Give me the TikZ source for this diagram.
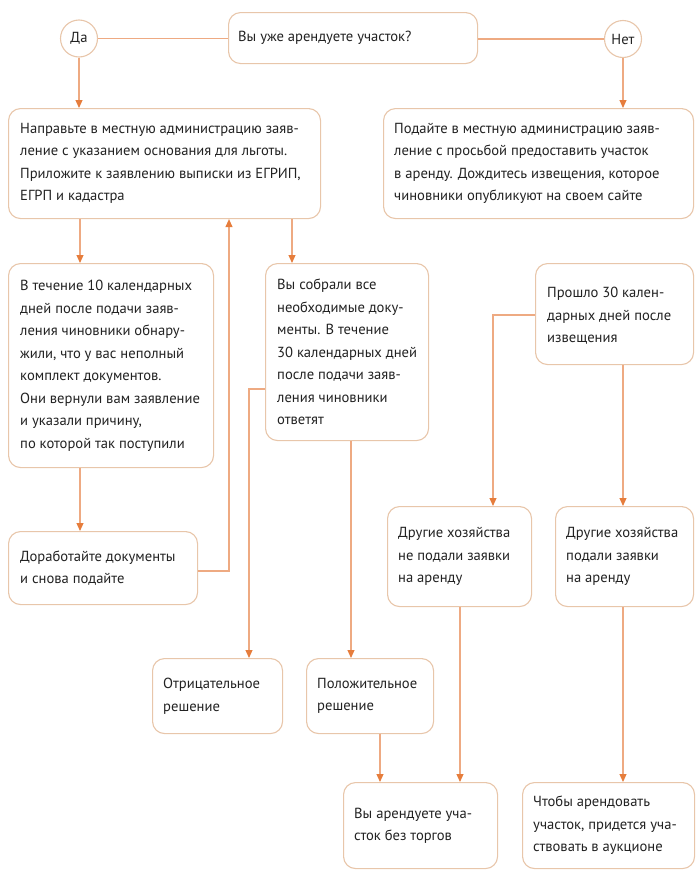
\documentclass[tikz,border=0pt]{standalone}
\usepackage{fontspec}
\setmainfont{PT Sans}
\usetikzlibrary{arrows.meta,calc}
\definecolor{linec}{RGB}{238,170,130}
\definecolor{arrowc}{RGB}{230,125,60}
\definecolor{boxc}{RGB}{232,198,170}
\definecolor{txtc}{RGB}{34,34,34}
\begin{document}
\begin{tikzpicture}[x=1pt,y=-1pt,
  every node/.style={font=\fontsize{14.6}{22.5}\selectfont, text=txtc},
  box/.style={draw=boxc, line width=1.1pt, rounded corners=12pt, fill=white,
    align=left, inner sep=0pt, anchor=north west},
  yesno/.style={draw=boxc, line width=1.1pt, circle, fill=white, inner sep=0pt, minimum size=37pt},
  conn/.style={draw=linec, line width=1.1pt},
  arr/.style={conn, -{Triangle[length=8pt,width=7pt,color=arrowc]}},
  lbl/.style={anchor=west, align=left, inner sep=0pt}]
\useasboundingbox (0,0) rectangle (700,881);
\node[box, minimum width=249pt, minimum height=51pt] (q) at (228,12) {};
\node[lbl] (tq) at ($(q.west)+(10,0)$) {Вы уже арендуете участок?};
\node[yesno] (da) at (79,38.5) {Да};
\node[yesno] (net) at (623,39) {Нет};
\node[box, minimum width=312pt, minimum height=110pt] (b1) at (8,108) {};
\node[lbl] (t1) at ($(b1.west)+(12,0)$)
  {Направьте в местную администрацию заяв-\\ление с указанием основания для льготы.\\Приложите к заявлению выписки из ЕГРИП,\\ЕГРП и кадастра};
\node[box, minimum width=310pt, minimum height=110pt] (b2) at (383,108) {};
\node[lbl] (t2) at ($(b2.west)+(11,0)$)
  {Подайте в местную администрацию заяв-\\ление с просьбой предоставить участок\\в аренду. Дождитесь извещения, которое\\чиновники опубликуют на своем сайте};
\node[box, minimum width=205pt, minimum height=204pt] (b3) at (8,263) {};
\node[lbl] (t3) at ($(b3.west)+(12,0)$)
  {В течение 10 календарных\\дней после подачи заяв-\\ления чиновники обнару-\\жили, что у вас неполный\\комплект документов.\\Они вернули вам заявление\\и указали причину,\\по которой так поступили};
\node[box, minimum width=163pt, minimum height=177pt] (b4) at (265,263) {};
\node[lbl] (t4) at ($(b4.west)+(12,0)$)
  {Вы собрали все\\необходимые доку-\\менты. В течение\\30 календарных дней\\после подачи заяв-\\ления чиновники\\ответят};
\node[box, minimum width=158pt, minimum height=101pt] (b5) at (535,263) {};
\node[lbl] (t5) at ($(b5.west)+(12,2)$)
  {Прошло 30 кален-\\дарных дней после\\извещения};
\node[box, minimum width=189pt, minimum height=73pt] (b6) at (8,531) {};
\node[lbl] (t6) at ($(b6.west)+(12,0)$)
  {Доработайте документы\\и снова подайте};
\node[box, minimum width=144pt, minimum height=100pt] (b7) at (387,506) {};
\node[lbl] (t7) at ($(b7.west)+(11,0)$)
  {Другие хозяйства\\не подали заявки\\на аренду};
\node[box, minimum width=138pt, minimum height=100pt] (b8) at (555,506) {};
\node[lbl] (t8) at ($(b8.west)+(11,0)$)
  {Другие хозяйства\\подали заявки\\на аренду};
\node[box, minimum width=130pt, minimum height=75pt] (b9) at (152,658) {};
\node[lbl] (t9) at ($(b9.west)+(11,0)$)
  {Отрицательное\\решение};
\node[box, minimum width=127pt, minimum height=75pt] (b10) at (306,658) {};
\node[lbl] (t10) at ($(b10.west)+(11,0)$)
  {Положительное\\решение};
\node[box, minimum width=154pt, minimum height=86pt] (b11) at (343,782) {};
\node[lbl] (t11) at ($(b11.west)+(11,0)$)
  {Вы арендуете уча-\\сток без торгов};
\node[box, minimum width=172pt, minimum height=86pt] (b12) at (522,782) {};
\node[lbl] (t12) at ($(b12.west)+(11,0)$)
  {Чтобы арендовать\\участок, придется уча-\\ствовать в аукционе};
% column / row coordinates
\coordinate (c292) at (292,0);
\coordinate (c229) at (229,0);
\coordinate (c249) at (249,0);
\coordinate (c351) at (351,0);
\coordinate (c380) at (380,0);
\coordinate (c493) at (493,0);
\coordinate (c460) at (460,0);
\coordinate (c623) at (623,0);
\coordinate (c80) at (80,0);
\coordinate (r389) at (0,389);
\coordinate (r315) at (0,315);
\coordinate (r571) at (0,571);
% connectors
\draw[conn] (da.east) -- (da.east -| q.west);
\draw[conn] (q.east |- net.west) -- (net.west);
\draw[arr] (da.south) -- (da.south |- b1.north);
\draw[arr] (net.south) -- (net.south |- b2.north);
\draw[arr] (b1.south -| c80) -- (b3.north -| c80);
\draw[arr] (b1.south -| c292) -- (b4.north -| c292);
\draw[arr] (b3.south -| c80) -- (b6.north -| c80);
\draw[arr] (b6.east |- r571) -| (b1.south -| c229);
\draw[arr] (b4.west |- r389) -| (b9.north -| c249);
\draw[arr] (b4.south -| c351) -- (b10.north -| c351);
\draw[arr] (b10.south -| c380) -- (b11.north -| c380);
\draw[arr] (b5.west |- r315) -| (b7.north -| c493);
\draw[arr] (b5.south -| c623) -- (b8.north -| c623);
\draw[arr] (b7.south -| c460) -- (b11.north -| c460);
\draw[arr] (b8.south -| c623) -- (b12.north -| c623);
\end{tikzpicture}
\end{document}
